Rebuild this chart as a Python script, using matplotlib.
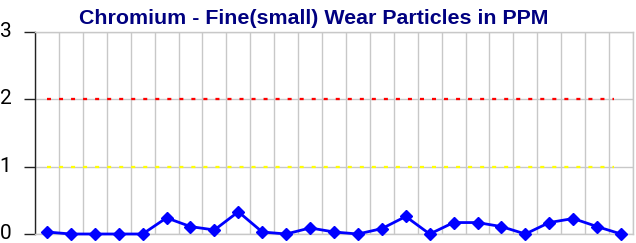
import matplotlib
matplotlib.use("Agg")
import matplotlib.pyplot as plt
import matplotlib.transforms as mtransforms
from matplotlib.ticker import FixedLocator

title = "Chromium - Fine(small) Wear Particles in PPM"
values = [0.03, 0, 0, 0, 0, 0.24, 0.11, 0.06, 0.33, 0.03, 0, 0.09,
          0.03, 0, 0.08, 0.26, 0, 0.17, 0.17, 0.11, 0, 0.17, 0.23, 0.11, 0]
alarm_level = 2
caution_level = 1
y_ticks = [0, 1, 2, 3]

n = len(values)
x = list(range(n))

fig = plt.figure(figsize=(6.36, 2.43), dpi=100)
ax = fig.add_axes([35/636, 9/243, 598/636, 202/243])

grid_c = "#c8c8c8"
ax.set_xlim(-0.5, n - 0.5)
ax.set_ylim(0, 3)
ax.xaxis.set_major_locator(FixedLocator([i - 0.5 for i in range(n + 1)]))
ax.tick_params(axis="x", length=0, labelbottom=False)
ax.set_yticks(y_ticks)
ax.grid(True, color=grid_c, linewidth=1.0)
ax.set_axisbelow(True)

dash = (0, (1.75, 3.5))
ax.plot([x[0], x[-1] - 0.3], [alarm_level, alarm_level], color="#ff0000",
        linewidth=1.65, linestyle=dash, dash_capstyle="butt")
ax.plot([x[0], x[-1] - 0.3], [caution_level, caution_level], color="#ffff00",
        linewidth=1.65, linestyle=dash, dash_capstyle="butt")
ax.plot(x, values, color="#0000ff", linewidth=2, marker="D", markersize=6.5,
        clip_on=False, zorder=5)

for s in ["top", "right", "bottom"]:
    ax.spines[s].set_color(grid_c)
    ax.spines[s].set_linewidth(1.0)
ax.spines["left"].set_color("#222222")
ax.spines["left"].set_linewidth(1.0)

ax.tick_params(axis="y", length=8, width=1, color="#222222", pad=9,
               labelsize=15)
offset = mtransforms.ScaledTranslation(0, 2.5 / 100, fig.dpi_scale_trans)
for lab in ax.get_yticklabels():
    lab.set_family(["Roboto", "DejaVu Sans"])
    lab.set_transform(lab.get_transform() + offset)

fig.text(0.493, 1 - 18/243, title, ha="center", va="center", color="#000080",
         fontsize=15.4, fontweight="bold", family=["Liberation Sans", "DejaVu Sans"])

fig.savefig("out.png", dpi=100)
